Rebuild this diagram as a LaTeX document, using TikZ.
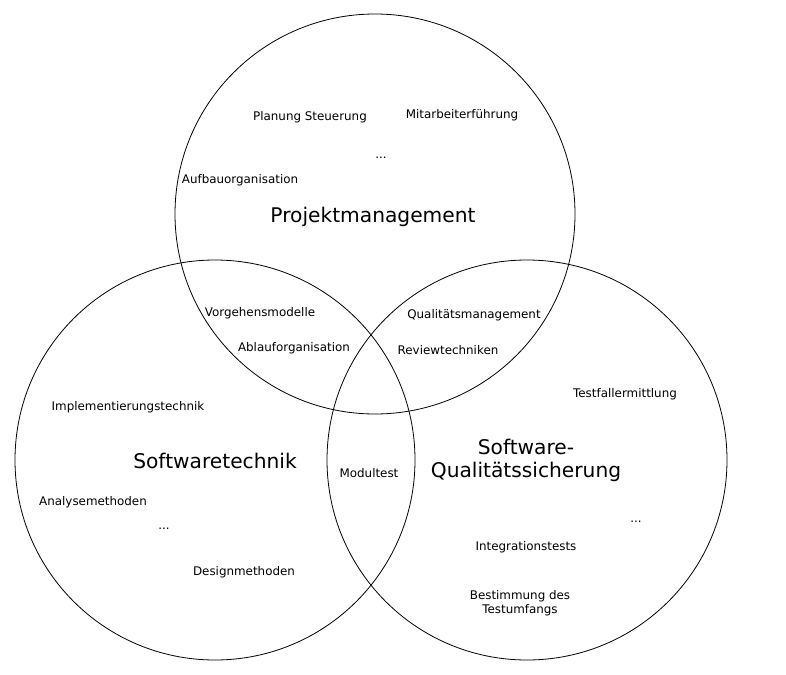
\documentclass[tikz,border=0pt]{standalone}
\usepackage{fontspec}
\setmainfont{DejaVu Sans}
\begin{document}
\begin{tikzpicture}[x=1pt,y=-1pt,
  ring/.style={circle,draw=black,line width=0.8pt,minimum size=400pt,inner sep=0pt},
  small/.style={font=\fontsize{11.9}{14}\selectfont,inner sep=0pt,align=center},
  big/.style={font=\fontsize{20.2}{23}\selectfont,inner sep=0pt,align=center}]
\useasboundingbox (0,0) rectangle (786,674);
\node[ring] (pm) at (375,214) {};
\node[ring] (st) at (215,460) {};
\node[ring] (qs) at (527,460) {};
\node[big] (tpm) at (373,216.5) {Projektmanagement};
\node[big] (tst) at (215,461) {Softwaretechnik};
\node[big] (tqs) at (526,460) {Software-\\Qualitätssicherung};
\node[small] (a1) at (310,117.5) {Planung Steuerung};
\node[small] (a2) at (462,115.5) {Mitarbeiterführung};
\node[small] (a3) at (381,158) {...};
\node[small] (a4) at (240,180.5) {Aufbauorganisation};
\node[small] (b1) at (260,313.5) {Vorgehensmodelle};
\node[small] (b2) at (294,348.5) {Ablauforganisation};
\node[small] (c1) at (474,315.5) {Qualitätsmanagement};
\node[small] (c2) at (448,350.5) {Reviewtechniken};
\node[small] (d1) at (625,394.5) {Testfallermittlung};
\node[small] (d2) at (636,522) {...};
\node[small] (d3) at (526,547.5) {Integrationstests};
\node[small] (d4) at (520,603) {Bestimmung des\\Testumfangs};
\node[small] (e1) at (128,407.5) {Implementierungstechnik};
\node[small] (e2) at (93,502.5) {Analysemethoden};
\node[small] (e3) at (164,529) {...};
\node[small] (e4) at (244,572.5) {Designmethoden};
\node[small] (m) at (369,473.5) {Modultest};
\end{tikzpicture}
\end{document}
